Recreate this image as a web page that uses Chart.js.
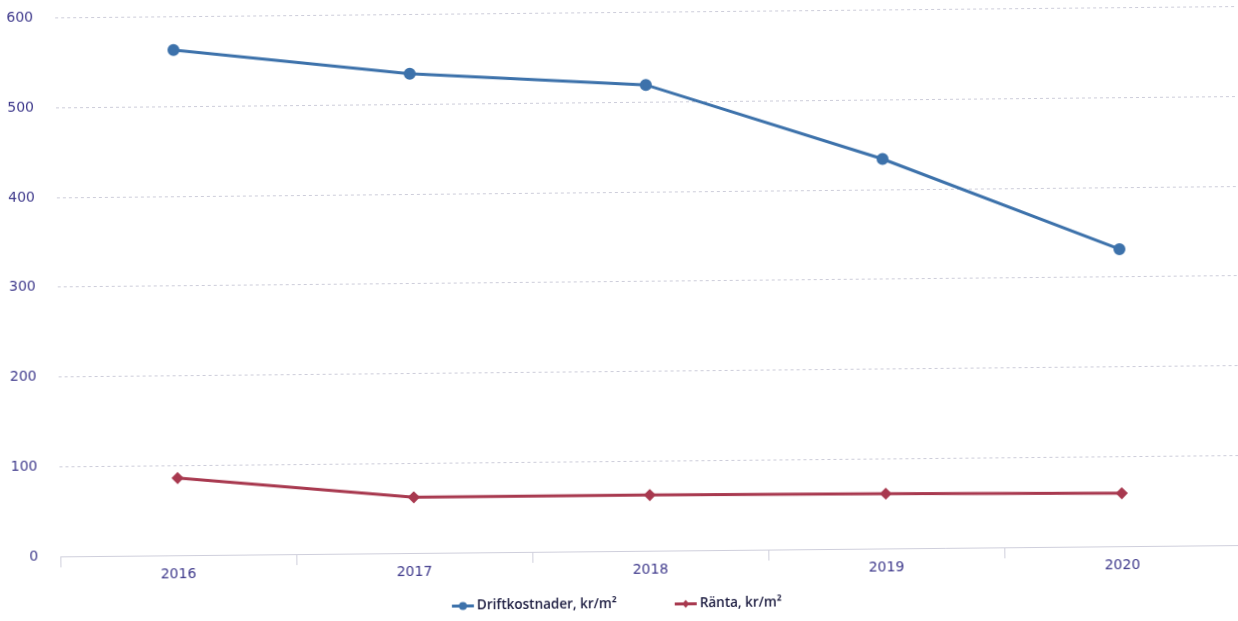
<!DOCTYPE html>
<html>
<head>
<meta charset="utf-8">
<script src="https://cdn.jsdelivr.net/npm/chart.js@4.4.1/dist/chart.umd.min.js"></script>
<style>
  html, body { margin: 0; padding: 0; background: #ffffff; overflow: hidden; }
  #wrap { width: 1238px; height: 621px; transform: rotate(-0.55deg); transform-origin: 50% 50%; }
</style>
</head>
<body>
<div id="wrap"><canvas id="chart" width="1238" height="621"></canvas></div>
<script>
// Years on the category axis
const years = ['2016', '2017', '2018', '2019', '2020'];
// Operating cost per square metre
const driftkostnader = [563, 534, 519, 434, 331];
// Interest cost per square metre
const ranta = [86, 62, 62, 61, 59];
// Value axis ticks
const yTicks = [0, 100, 200, 300, 400, 500, 600];

const BLUE = '#3d72ab';
const RED = '#a8394f';
const TICK_COLOR = '#3f3a8c';
const LEGEND_FONT = '600 13.5px "Open Sans", sans-serif';

// Line-with-marker legend drawn under the plot
const bottomLegend = {
  id: 'bottomLegend',
  afterDraw(chart) {
    const ctx = chart.ctx;
    const sets = chart.data.datasets;
    const iconW = 22, textGap = 3, itemGap = 58;
    ctx.save();
    ctx.font = LEGEND_FONT;
    const widths = sets.map(ds => iconW + textGap + ctx.measureText(ds.label).width);
    const total = widths.reduce((a, b) => a + b, 0) + itemGap * (sets.length - 1);
    let x = chart.width / 2 - 5 - total / 2;
    const y = 604.5;
    sets.forEach((ds, i) => {
      const c = ds.borderColor;
      ctx.strokeStyle = c; ctx.fillStyle = c; ctx.lineWidth = 3;
      ctx.beginPath(); ctx.moveTo(x, y); ctx.lineTo(x + iconW, y); ctx.stroke();
      const cx = x + iconW / 2;
      ctx.beginPath();
      if (ds.pointStyle === 'circle') {
        ctx.arc(cx, y, 4, 0, Math.PI * 2);
      } else {
        ctx.moveTo(cx, y - 4); ctx.lineTo(cx + 3.5, y); ctx.lineTo(cx, y + 4); ctx.lineTo(cx - 3.5, y); ctx.closePath();
      }
      ctx.fill();
      ctx.fillStyle = '#1c1c40';
      ctx.textBaseline = 'middle';
      ctx.textAlign = 'left';
      ctx.fillText(ds.label, x + iconW + textGap, y);
      x += widths[i] + itemGap;
    });
    ctx.restore();
  }
};

new Chart(document.getElementById('chart'), {
  type: 'line',
  data: {
    labels: years,
    datasets: [
      {
        label: 'Driftkostnader, kr/m²',
        data: driftkostnader,
        borderColor: BLUE,
        backgroundColor: BLUE,
        borderWidth: 3,
        pointStyle: 'circle',
        pointRadius: 4.5,
        pointHoverRadius: 4.5,
        tension: 0
      },
      {
        label: 'Ränta, kr/m²',
        data: ranta,
        borderColor: RED,
        backgroundColor: RED,
        borderWidth: 3,
        pointStyle: 'rectRot',
        pointRadius: 4,
        pointHoverRadius: 4,
        tension: 0
      }
    ]
  },
  options: {
    responsive: false,
    animation: false,
    devicePixelRatio: 1,
    layout: { autoPadding: false, padding: { top: 12.5, right: -5, left: 0, bottom: 34 } },
    plugins: {
      tooltip: { enabled: false },
      legend: { display: false }
    },
    scales: {
      x: {
        offset: true,
        grid: {
          offset: true,
          drawOnChartArea: false,
          drawTicks: true,
          tickLength: 11,
          color: '#cfcfdc'
        },
        border: { display: true, color: '#cfcfdc', width: 1 },
        ticks: {
          padding: 0,
          color: TICK_COLOR,
          font: { family: '"DejaVu Sans", Verdana, sans-serif', size: 14 }
        },
        afterFit(scale) {
          scale.height = 36;
          scale.paddingLeft = 0;
          scale.paddingRight = 0;
        }
      },
      y: {
        min: 0,
        max: 600,
        afterBuildTicks(scale) { scale.ticks = yTicks.map(v => ({ value: v })); },
        grid: {
          drawTicks: false,
          color: '#cdcdda',
          lineWidth: 1
        },
        border: { display: false, dash: [3, 3] },
        ticks: {
          padding: 22,
          color: TICK_COLOR,
          font: { family: '"DejaVu Sans", Verdana, sans-serif', size: 14 }
        },
        afterFit(scale) {
          scale.width = 58;
          scale.paddingTop = 0;
          scale.paddingBottom = 0;
        }
      }
    }
  },
  plugins: [bottomLegend]
});
</script>
</body>
</html>
